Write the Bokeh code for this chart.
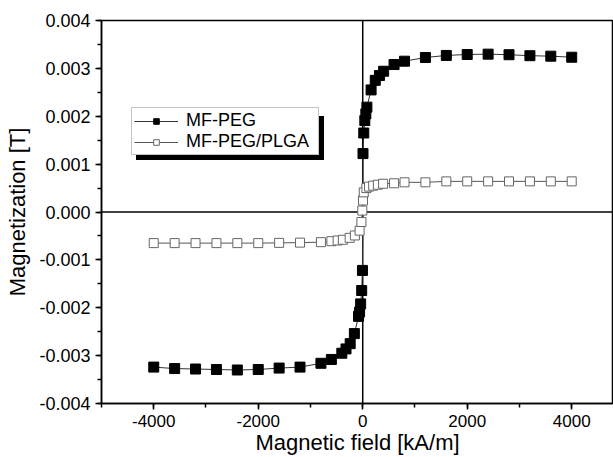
from bokeh.plotting import figure
from bokeh.models import (Range1d, SingleIntervalTicker, PrintfTickFormatter, Span,
                          Legend, LegendItem)
from bokeh.embed import file_html
from bokeh.resources import INLINE

FONT = "Liberation Sans"

# MF-PEG (filled squares)
x_peg = [-4000, -3600, -3200, -2800, -2400, -2000, -1600, -1200, -800, -600, -400,
         -320, -240, -160, -80, -60, -40, -20, -5,
         5, 20, 40, 60, 80, 160, 240, 320, 400, 600, 800, 1200, 1600, 2000, 2400,
         2800, 3200, 3600, 4000]
y_peg = [-0.00324, -0.00327, -0.00328, -0.00329, -0.00330, -0.00329, -0.00326, -0.00324,
         -0.00316, -0.00308, -0.00295, -0.00286, -0.00275, -0.00254, -0.00218, -0.00209,
         -0.00192, -0.00164, -0.00122,
         0.00122, 0.00165, 0.00191, 0.00205, 0.00219, 0.00255, 0.00275, 0.00285, 0.00294,
         0.00308, 0.00315, 0.003227, 0.00327, 0.00329, 0.003297, 0.003285, 0.003265,
         0.003255, 0.003233]

# MF-PEG/PLGA (open squares)
x_plga = [-4000, -3600, -3200, -2800, -2400, -2000, -1600, -1200, -800, -600, -480,
          -380, -250, -150, -60, -25, -8, 5, 20, 70, 120, 200, 290, 390, 600, 800,
          1200, 1600, 2000, 2400, 2800, 3200, 3600, 4000]
y_plga = [-0.00065, -0.00065, -0.00065, -0.00065, -0.00065, -0.00065, -0.000645, -0.00064,
          -0.00063, -0.00061, -0.000595, -0.00058, -0.00054, -0.00049, -0.00039, -0.00021,
          0.00003, 0.00024, 0.00041, 0.00050, 0.00053, 0.00055, 0.00057, 0.00059, 0.00060,
          0.00062, 0.00062, 0.00064, 0.00064, 0.00064, 0.00064, 0.00064, 0.00064, 0.00064]

series_names = ["MF-PEG", "MF-PEG/PLGA"]

p = figure(width=613, height=457, output_backend="svg", toolbar_location=None,
           x_range=Range1d(-5000, 4800), y_range=Range1d(-0.004, 0.004),
           min_border_left=101, min_border_right=0, min_border_top=20, min_border_bottom=54)
p.background_fill_color = "white"
p.border_fill_color = "white"
p.outline_line_color = "black"
p.outline_line_width = 1.5
p.xgrid.visible = False
p.ygrid.visible = False

p.xaxis.ticker = SingleIntervalTicker(interval=2000, num_minor_ticks=2)
p.yaxis.ticker = SingleIntervalTicker(interval=0.001, num_minor_ticks=2)
p.xaxis.formatter = PrintfTickFormatter(format="%d")
p.yaxis.formatter = PrintfTickFormatter(format="%.3f")
for ax in (p.xaxis[0], p.yaxis[0]):
    ax.axis_line_width = 1.5
    ax.axis_line_color = "black"
    ax.major_tick_line_width = 1.5
    ax.minor_tick_line_width = 1.5
    ax.major_tick_in = 0
    ax.major_tick_out = 6
    ax.minor_tick_in = 0
    ax.minor_tick_out = 4
    ax.major_label_text_font = FONT
    ax.major_label_text_color = "black"
    ax.axis_label_text_font = FONT
    ax.axis_label_text_font_size = "22px"
    ax.axis_label_text_font_style = "normal"
    ax.axis_label_text_color = "black"
p.xaxis.major_label_text_font_size = "17px"
p.yaxis.major_label_text_font_size = "18px"
p.xaxis.axis_label = "Magnetic field [kA/m]"
p.yaxis.axis_label = "Magnetization [T]"
p.xaxis.major_label_standoff = 5
p.yaxis.major_label_standoff = 5
p.xaxis.axis_label_standoff = 0
p.yaxis.axis_label_standoff = 6

p.add_layout(Span(location=0, dimension="height", line_color="black", line_width=1.5,
                  level="underlay"))
p.add_layout(Span(location=0, dimension="width", line_color="black", line_width=1.5,
                  level="underlay"))

l1 = p.line(x_peg, y_peg, line_color="#333333", line_width=1)
s1 = p.scatter(x_peg, y_peg, marker="square", size=10, fill_color="black",
               line_color="black")
l2 = p.line(x_plga, y_plga, line_color="#555555", line_width=1)
s2 = p.scatter(x_plga, y_plga, marker="square", size=9, fill_color="white",
               line_color="#666666", line_width=1)

# invisible renderers for the legend shadow
dl = p.line([], [], line_alpha=0)
ds = p.scatter([], [], marker="square", size=9, fill_alpha=0, line_alpha=0)


def make_legend(items, loc, bg, border, text_color):
    lg = Legend(items=items, location=loc, orientation="vertical",
                label_text_font=FONT, label_text_font_size="18px",
                label_text_color=text_color, glyph_width=44, glyph_height=14,
                label_standoff=8, label_width=130, label_height=19,
                spacing=0, padding=2, margin=0,
                background_fill_color=bg, background_fill_alpha=1.0,
                border_line_color=border, border_line_width=1)
    return lg


shadow = make_legend([LegendItem(label=" ", renderers=[dl, ds]) for _ in series_names],
                     (35, 243), "black", "black", "black")
main = make_legend([LegendItem(label=series_names[0], renderers=[l1, s1]),
                    LegendItem(label=series_names[1], renderers=[l2, s2])],
                   (30, 248), "white", "#888888", "black")
p.add_layout(shadow, "center")
p.add_layout(main, "center")

open("out.html", "w").write(file_html(p, INLINE))
